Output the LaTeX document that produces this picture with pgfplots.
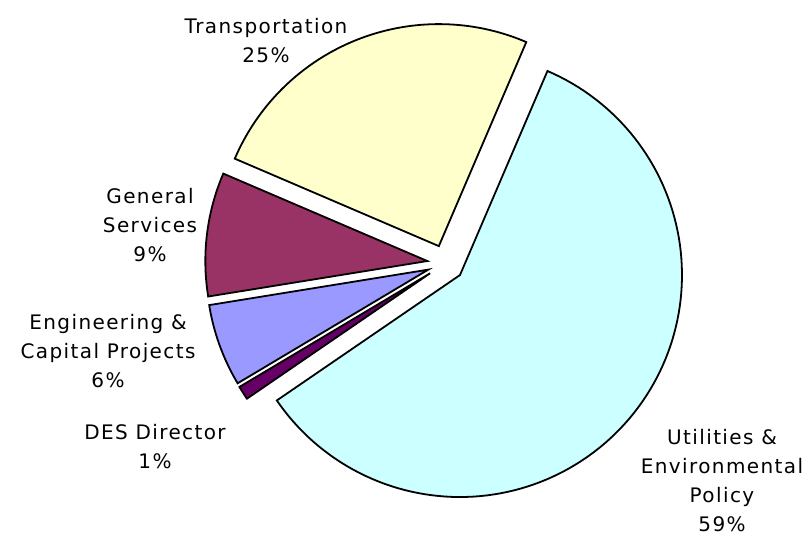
\documentclass[border=0pt]{standalone}
\usepackage{pgfplots}
\pgfplotsset{compat=1.18}
\usepackage{fontspec}
\setmainfont{DejaVu Sans}[LetterSpace=7]
\definecolor{cUtil}{HTML}{CCFFFF}
\definecolor{cTrans}{HTML}{FFFFCC}
\definecolor{cGen}{HTML}{993366}
\definecolor{cEng}{HTML}{9999FF}
\definecolor{cDES}{HTML}{660066}
% shares in percent
\def\pUtil{59}\def\pTrans{25}\def\pGen{9}\def\pEng{6}\def\pDES{1}
% geometry
\def\cx{445.7}\def\cy{271.7}\def\R{222}\def\ex{18.5}
\pgfmathsetmacro\aStart{66.8}
\pgfmathsetmacro\aUtilS{\aStart-3.6*\pUtil}
\pgfmathsetmacro\aTransE{\aStart+3.6*\pTrans}
\pgfmathsetmacro\aGenE{\aTransE+3.6*\pGen}
\pgfmathsetmacro\aEngE{\aGenE+3.6*\pEng}
\pgfmathsetmacro\aDESE{\aEngE+3.6*\pDES}
% wedge centres (exploded)
\pgfmathsetmacro\uX{\cx+\ex*cos((\aUtilS+\aStart)/2)}\pgfmathsetmacro\uY{\cy+\ex*sin((\aUtilS+\aStart)/2)}
\pgfmathsetmacro\tX{\cx+\ex*cos((\aStart+\aTransE)/2)}\pgfmathsetmacro\tY{\cy+\ex*sin((\aStart+\aTransE)/2)}
\pgfmathsetmacro\gX{\cx+\ex*cos((\aTransE+\aGenE)/2)}\pgfmathsetmacro\gY{\cy+\ex*sin((\aTransE+\aGenE)/2)}
\pgfmathsetmacro\eX{\cx+\ex*cos((\aGenE+\aEngE)/2)}\pgfmathsetmacro\eY{\cy+\ex*sin((\aGenE+\aEngE)/2)}
\pgfmathsetmacro\dX{\cx+\ex*cos((\aEngE+\aDESE)/2)}\pgfmathsetmacro\dY{\cy+\ex*sin((\aEngE+\aDESE)/2)}
\begin{document}
\begin{tikzpicture}
\begin{axis}[x=1bp,y=1bp,xmin=0,xmax=806,ymin=0,ymax=535,hide axis,clip=false,
  every axis plot/.append style={draw=black,line width=1.8bp,samples=120,variable=\t,line join=miter}]
\path (axis cs:0,0) rectangle (axis cs:806,535);
\addplot[fill=cUtil,domain=\aUtilS:\aStart] ({\uX+\R*cos(t)},{\uY+\R*sin(t)}) -- (axis cs:\uX,\uY) -- cycle;
\addplot[fill=cTrans,domain=\aStart:\aTransE] ({\tX+\R*cos(t)},{\tY+\R*sin(t)}) -- (axis cs:\tX,\tY) -- cycle;
\addplot[fill=cGen,domain=\aTransE:\aGenE] ({\gX+\R*cos(t)},{\gY+\R*sin(t)}) -- (axis cs:\gX,\gY) -- cycle;
\addplot[fill=cEng,domain=\aGenE:\aEngE] ({\eX+\R*cos(t)},{\eY+\R*sin(t)}) -- (axis cs:\eX,\eY) -- cycle;
\addplot[fill=cDES,domain=\aEngE:\aDESE,samples=10] ({\dX+\R*cos(t)},{\dY+\R*sin(t)}) -- (axis cs:\dX,\dY) -- cycle;
\tikzset{lab/.style={align=center,inner sep=0pt,font=\fontsize{20bp}{29bp}\selectfont,text=black}}
\node[lab] at (axis cs:266,494) {Transportation\\25\%};
\node[lab] at (axis cs:150,310) {General\\Services\\9\%};
\node[lab] at (axis cs:108,184) {Engineering \&\\Capital Projects\\6\%};
\node[lab] at (axis cs:155,88) {DES Director\\1\%};
\node[lab] at (axis cs:722,54) {Utilities \&\\Environmental\\Policy\\59\%};
\end{axis}
\end{tikzpicture}
\end{document}
